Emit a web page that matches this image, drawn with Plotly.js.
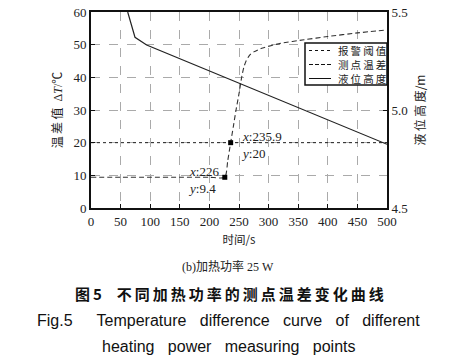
<!DOCTYPE html>
<html><head><meta charset="utf-8">
<script src="https://cdn.plot.ly/plotly-3.0.1.min.js"></script>
<style>html,body{margin:0;padding:0;background:#fff}</style>
</head><body><div id="chart" style="width:459px;height:359px"></div>
<script>
// Data
const timeDiff = [0, 50, 100, 150, 200, 226, 231, 235.9, 240.5, 245, 250, 254.5, 258, 262, 268, 275, 290, 320, 360, 400, 450, 500];
const tempDiff = [9.4, 9.4, 9.4, 9.4, 9.4, 9.4, 14.5, 20, 25, 30, 35, 40, 43, 45, 46.8, 47.8, 49, 50.4, 51.5, 52.5, 53.6, 54.5];
const timeLevel = [62, 74.3, 94, 500];
const level = [5.5, 5.371, 5.332, 4.825];
const alarmTime = [0, 500];
const alarmValue = [20, 20];
const markX = [226, 235.9];
const markY = [9.4, 20];
const seriesNames = ['报警阈值', '测点温差', '液位高度'];

const serif = 'Liberation Serif, Times New Roman, Noto Sans CJK SC, serif';
const cjk = 'Noto Sans CJK SC, sans-serif';

const traces = [
  {x: alarmTime, y: alarmValue, mode: 'lines', name: seriesNames[0], line: {color: '#222', width: 1, dash: 'dot'}},
  {x: timeDiff, y: tempDiff, mode: 'lines', name: seriesNames[1], line: {color: '#333', width: 1.1, dash: '5px,3px', shape: 'spline', smoothing: 0.6}},
  {x: timeLevel, y: level, mode: 'lines', name: seriesNames[2], yaxis: 'y2', line: {color: '#222', width: 1.2}, cliponaxis: true},
  {x: markX, y: markY, mode: 'markers', showlegend: false, marker: {symbol: 'square', size: 5, color: '#000'}}
];

const toPaperY = py => (208 - py) / 196;
const toPaperX = px => (px - 91) / 296;

// custom legend
const legTop = 43, legBot = 85, legL = 305, legR = 387;
const shapes = [
  {type: 'rect', xref: 'paper', yref: 'paper', x0: toPaperX(legL), x1: toPaperX(legR), y0: toPaperY(legBot), y1: toPaperY(legTop), line: {color: '#111', width: 1.5}, fillcolor: '#fff', layer: 'above'}
];
const legDash = ['dot', '4px,2px', 'solid'];
const annotations = [];
for (let i = 0; i < 3; i++) {
  const py = 50.5 + i * 14;
  shapes.push({type: 'line', xref: 'paper', yref: 'paper', x0: toPaperX(309), x1: toPaperX(331), y0: toPaperY(py), y1: toPaperY(py), line: {color: '#111', width: 1, dash: legDash[i]}, layer: 'above'});
  annotations.push({xref: 'paper', yref: 'paper', x: toPaperX(336), y: toPaperY(py), xanchor: 'left', yanchor: 'middle', showarrow: false, text: seriesNames[i].split('').join('\u2009'), font: {family: cjk, size: 10.5, color: '#222'}});
}
annotations.push(
  {x: 226, y: 9.4, xref: 'x', yref: 'y', xanchor: 'right', yanchor: 'middle', xshift: -4, yshift: -3, showarrow: false, align: 'left', text: '<i>x</i>:226<br><i>y</i>:9.4', font: {family: serif, size: 13, color: '#222'}},
  {x: 235.9, y: 20, xref: 'x', yref: 'y', xanchor: 'left', yanchor: 'middle', xshift: 8, yshift: -2, showarrow: false, align: 'left', text: '<i>x</i>:235.9<br><i>y</i>:20', font: {family: serif, size: 13, color: '#222'}},
  {xref: 'paper', yref: 'paper', x: toPaperX(228), y: toPaperY(266.7), xanchor: 'center', yanchor: 'middle', showarrow: false, text: '(b)加热功率 25 W', font: {family: serif, size: 12, color: '#222'}},
  {xref: 'paper', yref: 'paper', x: toPaperX(229), y: toPaperY(293.3), xanchor: 'center', yanchor: 'middle', showarrow: false, text: '<b>图\u20095\u2003不\u2009同\u2009加\u2009热\u2009功\u2009率\u2009的\u2009测\u2009点\u2009温\u2009差\u2009变\u2009化\u2009曲\u2009线</b>', font: {family: cjk, size: 15, color: '#111'}},
  {xref: 'paper', yref: 'paper', x: toPaperX(228), y: toPaperY(320.7), xanchor: 'center', yanchor: 'middle', showarrow: false, text: 'Fig.5\u2003\u2002Temperature   difference   curve   of   different', font: {family: 'Liberation Sans, Arial, sans-serif', size: 16, color: '#111'}},
  {xref: 'paper', yref: 'paper', x: toPaperX(228), y: toPaperY(346.7), xanchor: 'center', yanchor: 'middle', showarrow: false, text: 'heating   power   measuring   points', font: {family: 'Liberation Sans, Arial, sans-serif', size: 16, color: '#111'}}
);

const layout = {
  width: 459, height: 359,
  margin: {l: 91, r: 72, t: 12, b: 151},
  paper_bgcolor: '#fff', plot_bgcolor: '#fff',
  showlegend: false,
  xaxis: {
    range: [0, 500], dtick: 50, tick0: 0, ticks: 'inside', ticklen: 4, tickcolor: '#111',
    showline: true, linewidth: 2, linecolor: '#111', mirror: true,
    showgrid: true, gridcolor: '#aaa', gridwidth: 1, griddash: 'dash', zeroline: false,
    tickfont: {family: serif, size: 13, color: '#222'},
    title: {text: '时间/s', font: {family: cjk, size: 11.5, color: '#222'}, standoff: 8}
  },
  yaxis: {
    range: [0, 60], dtick: 10, ticks: 'inside', ticklen: 4, tickcolor: '#111',
    showline: true, linewidth: 2, linecolor: '#111', mirror: true,
    showgrid: true, gridcolor: '#aaa', gridwidth: 1, griddash: 'dash', zeroline: false,
    tickfont: {family: serif, size: 13, color: '#222'},
    title: {text: '温\u2009差\u2009值\u2002Δ<i>T</i>/℃', font: {family: serif, size: 12, color: '#222'}, standoff: 8}
  },
  yaxis2: {
    overlaying: 'y', side: 'right', range: [4.5, 5.5], dtick: 0.5, tickformat: '.1f',
    ticks: 'inside', ticklen: 4, tickcolor: '#111', showline: true, linewidth: 2, linecolor: '#111',
    showgrid: false, zeroline: false,
    tickfont: {family: serif, size: 13, color: '#222'},
    title: {text: '液\u2009位\u2009高\u2009度/m', font: {family: cjk, size: 12, color: '#222'}, standoff: 10}
  },
  shapes: shapes,
  annotations: annotations
};

Plotly.newPlot('chart', traces, layout, {staticPlot: true, displayModeBar: false});
</script>
</body></html>
